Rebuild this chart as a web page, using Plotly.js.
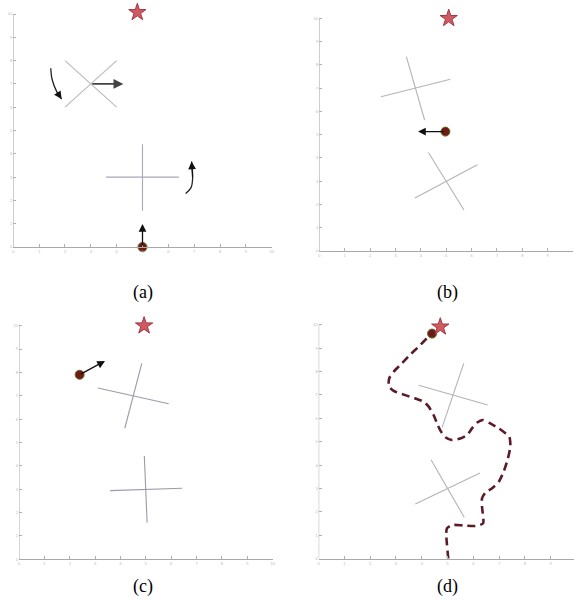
<!DOCTYPE html>
<html><head><meta charset="utf-8">
<script src="https://cdn.plot.ly/plotly-3.0.1.min.js"></script>
<style>html,body{margin:0;padding:0;background:#fff}#plot{width:574px;height:605px}</style>
</head><body><div id="plot"></div>
<script>
// ---- data (per panel a,b,c,d) ----
const panelLabels = ['(a)', '(b)', '(c)', '(d)'];
const tickVals = [0,1,2,3,4,5,6,7,8,9,10];
const tickText = ['0','1','2','3','4','5','6','7','8','9','10'];

const goalX = [4.8, 5.1, 4.93, 4.72];
const goalY = [10.07, 10.0, 10.0, 9.91];

const robotX = [5.0, 4.97, 2.39, 4.4];
const robotY = [0.0, 5.13, 7.9, 9.62];

// heading arrow tips (null = none)
const headX = [5.0, 3.89, 3.39, null];
const headY = [0.99, 5.13, 8.49, null];

// obstacle crosses: segments [x0,y0,x1,y1], four per panel
const segA = [[2,8,4,6],[2,6,4,8],[3.59,3,6.41,3],[5,4.41,5,1.56]];
const segB = [[3.43,8.35,4.15,5.63],[2.43,6.63,5.16,7.38],[4.3,4.23,5.7,1.76],[3.77,2.28,6.23,3.71]];
const segC = [[4.84,8.39,4.17,5.61],[3.11,7.33,5.9,6.66],[4.94,4.42,5.05,1.57],[3.59,2.94,6.43,3.04]];
const segD = [[5.63,8.35,4.79,5.61],[3.88,7.41,6.56,6.57],[4.36,4.23,5.65,1.77],[3.75,2.34,6.26,3.66]];
const segs = [segA, segB, segC, segD];

// panel (a): obstacle motion arrow and rotation arrows
const moveArrowA = [3.0, 7.0, 4.26, 7.0];
const rotLeftX = [1.45, 1.5, 1.68, 1.87];
const rotLeftY = [7.67, 7.2, 6.67, 6.35];
const rotRightX = [6.67, 6.88, 6.94, 6.9];
const rotRightY = [2.30, 2.55, 2.95, 3.67];

// panel (d): robot path
const pathX = [5.03,4.95,4.98,5.17,5.63,6.08,6.38,6.34,6.34,6.47,6.73,6.99,7.18,7.33,7.44,7.40,7.25,6.99,6.66,6.38,6.14,5.95,5.76,5.50,5.17,4.92,4.75,4.62,4.46,4.27,4.07,3.75,3.36,2.91,2.72,2.74,2.91,3.23,3.56,3.88,4.20,4.40];
const pathY = [0,1.08,1.30,1.44,1.42,1.40,1.51,2.22,2.58,2.82,3.01,3.29,3.72,4.22,4.79,5.21,5.36,5.57,5.78,5.93,5.81,5.57,5.28,5.14,5.07,5.19,5.43,5.71,6.14,6.50,6.71,6.85,6.99,7.17,7.38,7.71,7.99,8.35,8.73,9.06,9.42,9.60];

// ---- layout ----
// y-range runs a little past 10 so the goal star sits inside the plot
const yTop = 10.4;
const domX = [[0.0232,0.4733],[0.5563,0.9983],[0.0331,0.4751],[0.5552,1.0]];
// bottom (y=0) and y=10 pixel rows per panel, and px per unit
const y0px = [247, 251, 559.3, 558.7];
const y10px = [14, 18.3, 325.7, 324.7];
const xMax = [10,10,10,9.91];
const captionPos = [[0.249,0.516],[0.78,0.516],[0.249,0.030],[0.78,0.030]];

const traces = [];
const annotations = [];
const layout = {
  width:574, height:605, margin:{l:0,r:0,t:0,b:0},
  paper_bgcolor:'#fff', plot_bgcolor:'rgba(0,0,0,0)', showlegend:false,
  annotations: annotations
};

for (let p=0;p<4;p++){
  const sx = p===0?'':String(p+1);
  const xa='x'+sx, ya='y'+sx;
  const unit = (y0px[p]-y10px[p])/10;
  const topPx = y10px[p] - (yTop-10)*unit;
  const axCommon = {
    showgrid:false, zeroline:false, showline:true, linecolor:'#a8a8a8', linewidth:1,
    ticks:'inside', ticklen:3, tickcolor:'#b0b0b0', tickvals:tickVals, ticktext:tickText,
    tickfont:{size:4, color:'#b8b8b8', family:'Arial'}, fixedrange:true
  };
  layout['xaxis'+sx] = Object.assign({}, axCommon, {domain:domX[p], range:[0,xMax[p]], anchor:ya});
  layout['yaxis'+sx] = Object.assign({}, axCommon, {domain:[1-y0px[p]/605, 1-topPx/605], range:[0,yTop], anchor:xa, showline:false});
  // y axis line only from 0 to 10 (as in the reference)
  traces.push({x:[0,0], y:[0,10], xaxis:xa, yaxis:ya, mode:'lines', line:{color:'#a8a8a8', width:1}, hoverinfo:'skip', cliponaxis:false});

  // crosses
  const cc = (p===2)? '#9a9cab' : (p===0 ? '#b9b9b9' : '#b4b4b4');
  segs[p].forEach((s,i)=>{
    traces.push({x:[s[0],s[2]], y:[s[1],s[3]], xaxis:xa, yaxis:ya, mode:'lines',
      line:{color:(p===0&&i>=2)?'#a8a8b8':cc, width:1.1}, hoverinfo:'skip', cliponaxis:false});
  });

  if (p===3){
    traces.push({x:pathX, y:pathY, xaxis:xa, yaxis:ya, mode:'lines',
      line:{color:'#5a1c26', width:2.6, dash:'8px,5px', shape:'spline', smoothing:0.6}, hoverinfo:'skip', cliponaxis:false});
  }

  if (p===0){
    traces.push({x:rotLeftX, y:rotLeftY, xaxis:xa, yaxis:ya, mode:'lines', line:{color:'#222', width:1.3, shape:'spline'}, hoverinfo:'skip', cliponaxis:false});
    traces.push({x:rotRightX, y:rotRightY, xaxis:xa, yaxis:ya, mode:'lines', line:{color:'#222', width:1.3, shape:'spline'}, hoverinfo:'skip', cliponaxis:false});
    annotations.push({x:rotLeftX[3], y:rotLeftY[3], ax:rotLeftX[2], ay:rotLeftY[2], xref:xa, yref:ya, axref:xa, ayref:ya,
      text:'', showarrow:true, arrowhead:2, arrowsize:1.3, arrowwidth:1.2, arrowcolor:'#111'});
    annotations.push({x:rotRightX[3], y:rotRightY[3], ax:rotRightX[2], ay:rotRightY[2], xref:xa, yref:ya, axref:xa, ayref:ya,
      text:'', showarrow:true, arrowhead:2, arrowsize:1.3, arrowwidth:1.2, arrowcolor:'#111'});
    annotations.push({x:moveArrowA[2], y:moveArrowA[3], ax:moveArrowA[0], ay:moveArrowA[1], xref:xa, yref:ya, axref:xa, ayref:ya,
      text:'', showarrow:true, arrowhead:2, arrowsize:1.1, arrowwidth:1.8, arrowcolor:'#444'});
  }

  if (headX[p]!==null){
    annotations.push({x:headX[p], y:headY[p], ax:robotX[p], ay:robotY[p], xref:xa, yref:ya, axref:xa, ayref:ya,
      text:'', showarrow:true, arrowhead:2, arrowsize:1.2, arrowwidth:1.3, arrowcolor:'#111'});
  }

  // robot
  traces.push({x:[robotX[p]], y:[robotY[p]], xaxis:xa, yaxis:ya, mode:'markers',
    marker:{size:9, color:'#6e1a16', line:{color:'#6b6a20', width:1}}, hoverinfo:'skip', cliponaxis:false});
  // goal
  traces.push({x:[goalX[p]], y:[goalY[p]], xaxis:xa, yaxis:ya, mode:'markers',
    marker:{symbol:'star', size:13, color:'#cf5a5f', line:{color:'#a33845', width:1}}, hoverinfo:'skip', cliponaxis:false});

  annotations.push({x:captionPos[p][0], y:captionPos[p][1], xref:'paper', yref:'paper', text:panelLabels[p],
    xanchor:'center', yanchor:'middle',
    showarrow:false, font:{family:'Liberation Serif, Times New Roman, serif', size:18, color:'#000'}});
}

Plotly.newPlot('plot', traces, layout, {staticPlot:true, displayModeBar:false});
</script>
</body></html>
